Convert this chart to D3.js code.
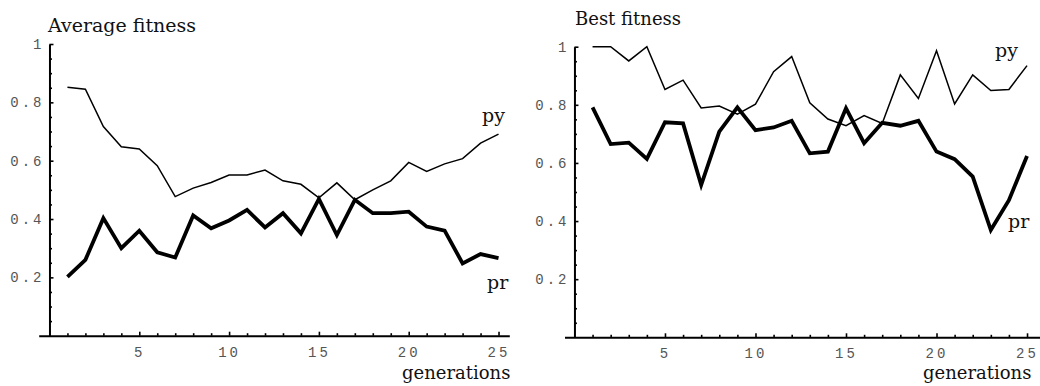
<!DOCTYPE html>
<html>
<head>
<meta charset="utf-8">
<script src="https://cdn.jsdelivr.net/npm/d3@7"></script>
<style>
  body { margin: 0; background: #fff; }
  .tick text { font-family: "Liberation Mono", monospace; font-size: 14px; fill: #555; letter-spacing: 3px; }
  .lbl { font-family: "DejaVu Serif", serif; fill: #111; }
</style>
</head>
<body>
<script>
var width = 1040,
    height = 386;

// generation numbers (x)
var generations = [1, 2, 3, 4, 5, 6, 7, 8, 9, 10, 11, 12, 13, 14, 15, 16, 17, 18, 19, 20, 21, 22, 23, 24, 25];

// average fitness
var avgPy = [0.852, 0.845, 0.717, 0.648, 0.640, 0.583, 0.477, 0.506, 0.525, 0.551, 0.551, 0.568, 0.531,
             0.519, 0.473, 0.524, 0.466, 0.500, 0.531, 0.594, 0.563, 0.589, 0.607, 0.660, 0.691];
var avgPr = [0.202, 0.260, 0.403, 0.300, 0.360, 0.286, 0.268, 0.412, 0.368, 0.395, 0.431, 0.371, 0.420,
             0.351, 0.469, 0.345, 0.466, 0.420, 0.420, 0.425, 0.374, 0.360, 0.248, 0.280, 0.266];

// best fitness
var bestPy = [1.0, 1.0, 0.951, 1.0, 0.853, 0.885, 0.789, 0.796, 0.768, 0.802, 0.914, 0.966, 0.807,
              0.751, 0.728, 0.763, 0.736, 0.903, 0.822, 0.986, 0.803, 0.903, 0.849, 0.853, 0.935];
var bestPr = [0.791, 0.665, 0.670, 0.614, 0.740, 0.736, 0.524, 0.708, 0.791, 0.713, 0.722, 0.745, 0.633,
              0.639, 0.788, 0.668, 0.738, 0.728, 0.745, 0.639, 0.613, 0.553, 0.369, 0.472, 0.624];

var yTicks = [0.2, 0.4, 0.6, 0.8, 1];
var yMinor = [0.05, 0.1, 0.15, 0.25, 0.3, 0.35, 0.45, 0.5, 0.55, 0.65, 0.7, 0.75, 0.85, 0.9, 0.95];
var xTicks = [5, 10, 15, 20, 25];

var svg = d3.select("body").append("svg")
    .attr("width", width)
    .attr("height", height);

drawPanel({
  title: "Average fitness", titleX: 48, titleY: 32, titleSize: 19,
  xDomain: [-0.6, 25.6], xRange: [38.7, 509.3],
  yRange: [335.7, 44],
  py: avgPy, pr: avgPr,
  pyLabel: [482, 122], prLabel: [487, 289],
  genX: 402
});

drawPanel({
  title: "Best fitness", titleX: 575, titleY: 25, titleSize: 18,
  xDomain: [-0.55, 25.7], xRange: [564.5, 1039.7],
  yRange: [337.3, 46.7],
  py: bestPy, pr: bestPr,
  pyLabel: [995, 57], prLabel: [1008, 228],
  genX: 923
});

function drawPanel(c) {
  var x = d3.scaleLinear().domain(c.xDomain).range(c.xRange);
  var y = d3.scaleLinear().domain([0, 1]).range(c.yRange);
  var g = svg.append("g");

  // x axis (ticks point up into the plot)
  g.append("g")
      .attr("transform", "translate(0," + y(0) + ")")
      .call(d3.axisBottom(x).tickValues(xTicks).tickFormat(d3.format("d"))
            .tickSizeInner(-4).tickSizeOuter(0).tickPadding(11));
  g.append("g")
      .attr("transform", "translate(0," + y(0) + ")")
      .call(d3.axisBottom(x).tickValues(generations.filter(function(d) { return d % 5; }))
            .tickFormat("").tickSizeInner(-2.5).tickSizeOuter(0))
      .select(".domain").remove();

  // y axis
  g.append("g")
      .attr("transform", "translate(" + x(0) + ",0)")
      .call(d3.axisLeft(y).tickValues(yTicks).tickFormat(function(d) { return d === 1 ? "1" : d3.format(".1f")(d); })
            .tickSizeInner(-4).tickSizeOuter(0).tickPadding(5));
  g.append("g")
      .attr("transform", "translate(" + x(0) + ",0)")
      .call(d3.axisLeft(y).tickValues(yMinor).tickFormat("").tickSizeInner(-2.5).tickSizeOuter(0))
      .select(".domain").remove();

  g.selectAll(".domain").attr("stroke-width", 2);
  g.selectAll(".tick line").attr("stroke-width", 1.6);

  var line = d3.line()
      .x(function(d, i) { return x(generations[i]); })
      .y(function(d) { return y(d); });

  g.append("path")
      .datum(c.py)
      .attr("d", line)
      .attr("fill", "none")
      .attr("stroke", "#000")
      .attr("stroke-width", 1.5);

  g.append("path")
      .datum(c.pr)
      .attr("d", line)
      .attr("fill", "none")
      .attr("stroke", "#000")
      .attr("stroke-width", 3.8);

  g.append("text").attr("class", "lbl")
      .attr("x", c.titleX).attr("y", c.titleY)
      .style("font-size", c.titleSize + "px")
      .text(c.title);

  g.append("text").attr("class", "lbl")
      .attr("x", c.genX).attr("y", 379)
      .style("font-size", "18px")
      .text("generations");

  g.append("text").attr("class", "lbl")
      .attr("x", c.pyLabel[0]).attr("y", c.pyLabel[1])
      .style("font-size", "19px")
      .text("py");

  g.append("text").attr("class", "lbl")
      .attr("x", c.prLabel[0]).attr("y", c.prLabel[1])
      .style("font-size", "19px")
      .text("pr");
}
</script>
</body>
</html>
